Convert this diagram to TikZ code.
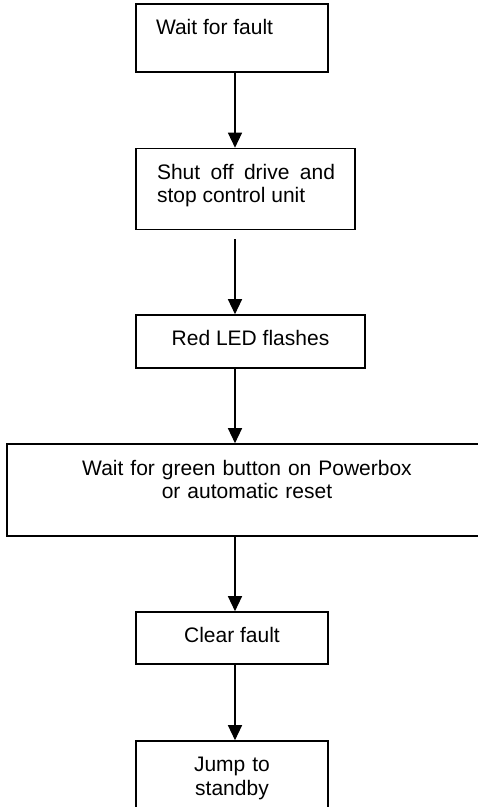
\documentclass[tikz,border=0pt]{standalone}
\usepackage{fontspec}
\setmainfont{Liberation Sans}
\usetikzlibrary{arrows.meta}

\tikzset{
  box/.style={draw=black, line width=1.6pt, rectangle, inner sep=0pt, fill=white},
  lbl/.style={inner sep=0pt, outer sep=0pt, font=\fontsize{21}{23.5}\selectfont},
  flow/.style={draw=black, line width=1.3pt, -{Triangle[length=15pt,width=14pt]}}
}

\begin{document}
\begin{tikzpicture}[x=1pt, y=-1pt]
  \useasboundingbox (0,0) rectangle (478,807);
  \clip (0,0) rectangle (478,807);
  \fill[white] (0,0) rectangle (478,807);

  % vertical axis shared by all connectors
  \coordinate (axis) at (235,0);

  % boxes
  \node[box, minimum width=192pt, minimum height=68pt] (b1) at (232,38) {};
  \node[box, minimum width=219pt, minimum height=81pt] (b2) at (245.5,189) {};
  \node[box, minimum width=229pt, minimum height=53pt] (b3) at (250.5,341.5) {};
  \node[box, minimum width=480pt, minimum height=92pt] (b4) at (247,490) {};
  \node[box, minimum width=192pt, minimum height=52pt] (b5) at (232,638) {};
  \node[box, minimum width=192pt, minimum height=90pt] (b6) at (232,786) {};

  % texts
  \node[lbl, anchor=base west] (t1) at (156,34) {Wait for fault};
  \node[lbl, anchor=base west, text width=178pt, align=justify] (t2) at (157,179)
    {Shut off drive and\linebreak stop control unit};
  \node[lbl, anchor=base] (t3) at (250.5,345.7) {Red LED flashes};
  \node[lbl, anchor=base, text width=420pt, align=center] (t4) at (247,475)
    {Wait for green button on Powerbox\\or automatic reset};
  \node[lbl, anchor=base] (t5) at (232,642.3) {Clear fault};
  \node[lbl, anchor=base, text width=160pt, align=center] (t6) at (232,771.7)
    {Jump to\\standby};

  % connectors
  \draw[flow] (axis |- b1.south) -- (axis |- b2.north);
  \draw[flow] ([yshift=-9pt]axis |- b2.south) -- (axis |- b3.north);
  \draw[flow] (axis |- b3.south) -- (axis |- b4.north);
  \draw[flow] (axis |- b4.south) -- (axis |- b5.north);
  \draw[flow] (axis |- b5.south) -- (axis |- b6.north);
\end{tikzpicture}
\end{document}
